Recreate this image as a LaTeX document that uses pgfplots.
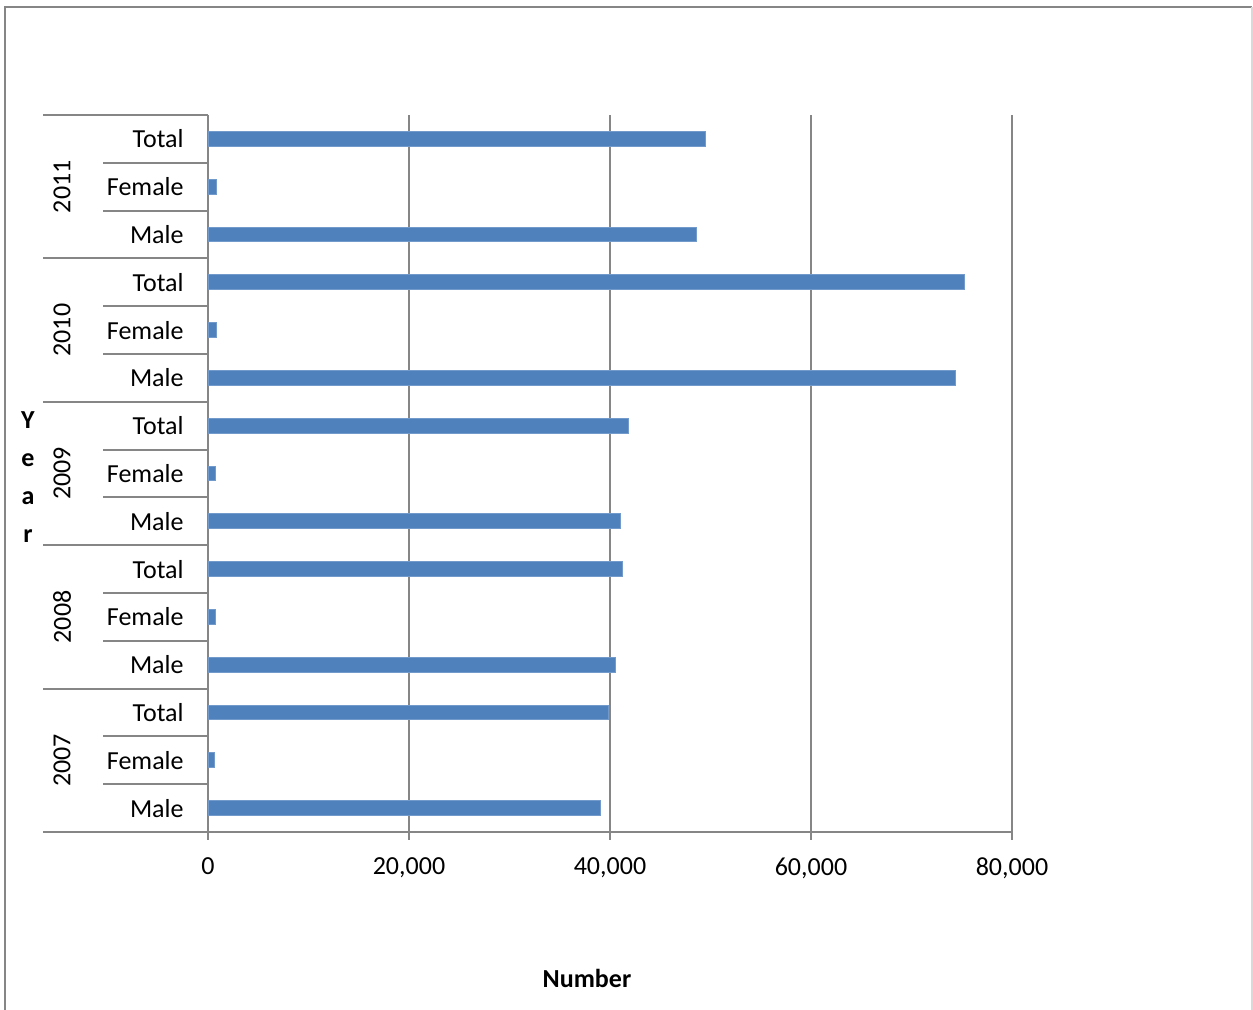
\documentclass[border=0pt]{standalone}
\usepackage{pgfplots}
\pgfplotsset{compat=1.18}
\usepackage{pgfplotstable}
\usepackage{fontspec}
\setmainfont{Carlito}
\definecolor{barc}{HTML}{4F81BD}
\definecolor{gridc}{HTML}{868686}
\pgfplotstableread{
y val
0.5 39050
1.5 680
2.5 39800
3.5 40500
4.5 700
5.5 41200
6.5 41000
7.5 770
8.5 41800
9.5 74400
10.5 880
11.5 75300
12.5 48600
13.5 870
14.5 49500
}\datatab
\begin{document}
\begin{tikzpicture}[font=\fontsize{13}{15.6}\selectfont]
\useasboundingbox (0,0) rectangle (626.5pt,505pt);
\draw[gridc, line width=1pt] (2.5pt,0) -- (2.5pt,501.5pt) -- (626pt,501.5pt);
\draw[gray!30, line width=0.8pt] (626pt,501.5pt) -- (626pt,0);
\begin{axis}[
  at={(104pt,89pt)}, anchor=south west,
  scale only axis, width=402pt, height=358.5pt,
  xmin=0, xmax=80000, ymin=0, ymax=15,
  axis x line=bottom, axis y line=left,
  axis line style={gridc, line width=1pt, -},
  xtick={0,20000,40000,60000,80000},
  xtick align=outside, major tick length=4pt,
  xtick style={gridc, line width=1pt},
  xmajorgrids, grid style={gridc, line width=1pt},
  ytick={0.5,1.5,...,14.5},
  yticklabels={Male,Female,Total,Male,Female,Total,Male,Female,Total,Male,Female,Total,Male,Female,Total},
  ytick style={draw=none},
  yticklabel style={inner sep=0pt, anchor=east, xshift=-10pt},
  xticklabel style={yshift=-5.5pt},
  scaled x ticks=false,
  /pgf/number format/.cd, 1000 sep={,}, assume math mode=true, /pgfplots/.cd,
  tick label style={font=\fontsize{13}{15.6}\selectfont},
  xlabel={Number},
  xlabel style={at={(axis description cs:0.4714,-0.2036)}, anchor=center, font=\fontsize{13}{15.6}\selectfont\bfseries},
  ylabel={Y\\e\\a\\r},
  ylabel style={at={(axis description cs:-0.2239,0.4944)}, anchor=center, rotate=-90, align=center, font=\fontsize{13}{19}\selectfont\bfseries},
  clip=false,
]
\addplot[xbar, bar width=7.4pt, fill=barc, draw=barc!80!white, line width=0.4pt] table[x=val, y=y] {\datatab};
% within-group separators
\draw[gridc, line width=1pt] (axis cs:0,1) -- ++(-52.5pt,0);
\draw[gridc, line width=1pt] (axis cs:0,2) -- ++(-52.5pt,0);
\draw[gridc, line width=1pt] (axis cs:0,4) -- ++(-52.5pt,0);
\draw[gridc, line width=1pt] (axis cs:0,5) -- ++(-52.5pt,0);
\draw[gridc, line width=1pt] (axis cs:0,7) -- ++(-52.5pt,0);
\draw[gridc, line width=1pt] (axis cs:0,8) -- ++(-52.5pt,0);
\draw[gridc, line width=1pt] (axis cs:0,10) -- ++(-52.5pt,0);
\draw[gridc, line width=1pt] (axis cs:0,11) -- ++(-52.5pt,0);
\draw[gridc, line width=1pt] (axis cs:0,13) -- ++(-52.5pt,0);
\draw[gridc, line width=1pt] (axis cs:0,14) -- ++(-52.5pt,0);
% group separators
\draw[gridc, line width=1pt] (axis cs:0,0) -- ++(-82.5pt,0);
\draw[gridc, line width=1pt] (axis cs:0,3) -- ++(-82.5pt,0);
\draw[gridc, line width=1pt] (axis cs:0,6) -- ++(-82.5pt,0);
\draw[gridc, line width=1pt] (axis cs:0,9) -- ++(-82.5pt,0);
\draw[gridc, line width=1pt] (axis cs:0,12) -- ++(-82.5pt,0);
\draw[gridc, line width=1pt] (axis cs:0,15) -- ++(-82.5pt,0);
% group labels
\path (axis cs:0,1.5) ++(-73pt,0) node[rotate=90, anchor=center] {2007};
\path (axis cs:0,4.5) ++(-73pt,0) node[rotate=90, anchor=center] {2008};
\path (axis cs:0,7.5) ++(-73pt,0) node[rotate=90, anchor=center] {2009};
\path (axis cs:0,10.5) ++(-73pt,0) node[rotate=90, anchor=center] {2010};
\path (axis cs:0,13.5) ++(-73pt,0) node[rotate=90, anchor=center] {2011};
\end{axis}
\end{tikzpicture}
\end{document}
